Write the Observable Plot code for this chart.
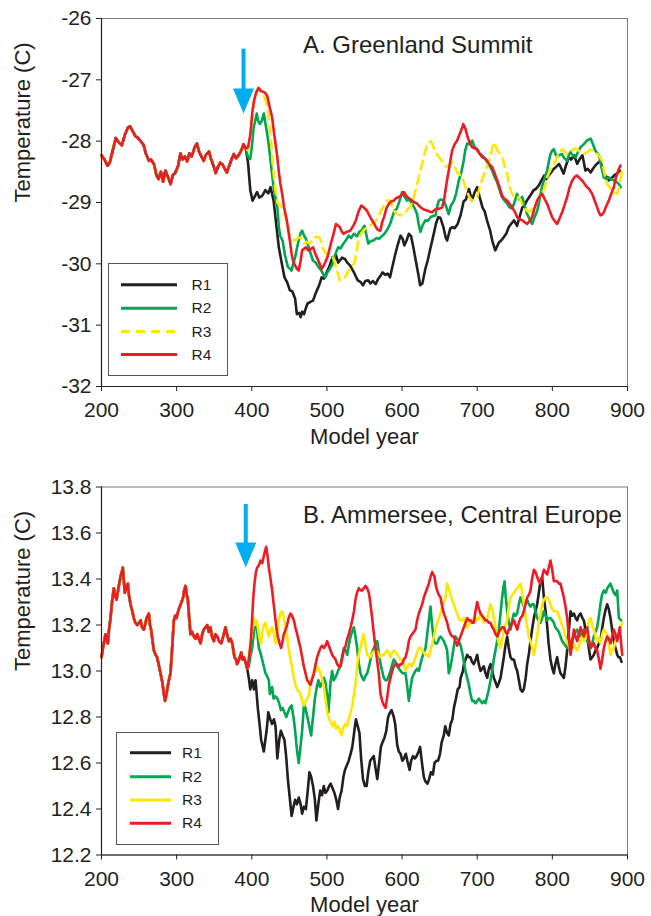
<!DOCTYPE html>
<html><head><meta charset="utf-8">
<script src="https://cdn.jsdelivr.net/npm/d3@7"></script>
<script src="https://cdn.jsdelivr.net/npm/@observablehq/plot@0.6"></script>
<style>
body{margin:0;background:#fff;font-family:"Liberation Sans",Arial,sans-serif;}
#wrap{position:relative;width:651px;height:916px;overflow:hidden;}
.panel{position:absolute;left:0;}
.legend{position:absolute;border:1px solid #555;background:#fff;box-sizing:border-box;}
</style></head><body><div id="wrap"></div>
<script>
// ---------- categories / ticks ----------
const seriesNames = ["R1", "R2", "R3", "R4"];
const seriesColors = ["#231f20", "#00a651", "#ffe800", "#ed1c24"];
const xTicks = [200, 300, 400, 500, 600, 700, 800, 900];
const A_yTicks = [-32, -31, -30, -29, -28, -27, -26];
const B_yTicks = [12.2, 12.4, 12.6, 12.8, 13.0, 13.2, 13.4, 13.6, 13.8];
const A_title = "A. Greenland Summit";
const B_title = "B. Ammersee, Central Europe";
// blue arrow annotations (year, top, neck, tip in temperature units)
const A_arrow = [{year: 389, top: -26.50, neck: -27.17, tip: -27.55}];
const B_arrow = [{year: 392, top: 13.724, neck: 13.546, tip: 13.45}];

// ---------- Panel A: Greenland Summit ----------
const A_common = [[200,-28.23],[204,-28.30],[208,-28.40],[211,-28.35],[215,-28.15],[219,-27.95],[223,-28.02],[227,-28.07],[231,-27.90],[235,-27.78],[238,-27.76],[242,-27.85],[245,-27.92],[248,-27.94],[252,-28.00],[256,-28.06],[259,-28.20],[263,-28.32],[266,-28.30],[270,-28.38],[273,-28.55],[276,-28.62],[279,-28.50],[282,-28.66],[285,-28.48],[289,-28.60],[292,-28.70],[295,-28.55],[298,-28.52],[302,-28.40],[305,-28.20],[308,-28.30],[311,-28.25],[314,-28.33],[317,-28.20],[320,-28.25],[324,-28.10],[327,-28.04],[330,-28.18],[333,-28.25],[336,-28.32],[339,-28.22],[343,-28.17],[346,-28.30],[349,-28.40],[352,-28.52],[355,-28.42],[358,-28.35],[361,-28.38],[364,-28.45],[367,-28.51],[370,-28.40],[373,-28.30],[376,-28.21],[379,-28.28],[383,-28.22],[386,-28.15],[389,-28.05],[392,-28.12]];
const A_R1 = [[395,-28.35],[398,-28.80],[401,-28.97],[404,-28.90],[407,-28.83],[410,-28.92],[414,-28.89],[418,-28.80],[422,-28.85],[425,-28.75],[429,-28.97],[432,-29.30],[436,-29.73],[440,-30.00],[443.5,-30.22],[447,-30.30],[450.6,-30.43],[454,-30.45],[457.7,-30.57],[460,-30.82],[463,-30.80],[465,-30.87],[467,-30.78],[469.6,-30.82],[472,-30.72],[474,-30.65],[478,-30.62],[481.5,-30.60],[485,-30.48],[488.6,-30.38],[491,-30.30],[493,-30.22],[496,-30.24],[498,-30.19],[501,-30.10],[503,-30.05],[505,-29.98],[507.6,-29.89],[510,-29.92],[512,-29.86],[515,-29.98],[517,-29.95],[520,-29.90],[524,-29.92],[527,-29.98],[531,-30.03],[534,-30.10],[536,-30.14],[539,-30.22],[541,-30.27],[545,-30.30],[548,-30.35],[551,-30.28],[555,-30.27],[558,-30.32],[561,-30.28],[565,-30.33],[568,-30.25],[571,-30.20],[574,-30.14],[578,-30.18],[581,-30.16],[584,-30.22],[587,-30.05],[591,-29.84],[594,-29.70],[598,-29.54],[601,-29.60],[603,-29.70],[606,-29.62],[609,-29.51],[612,-29.55],[615,-29.73],[619,-30.00],[622,-30.20],[624,-30.35],[627,-30.32],[631,-30.08],[634,-29.95],[638,-29.73],[642,-29.52],[645,-29.35],[648,-29.24],[651,-29.25],[655,-29.40],[658,-29.57],[660,-29.62],[664,-29.43],[667,-29.40],[670,-29.42],[674,-29.35],[678,-29.20],[682,-28.98],[685,-28.95],[689,-28.78],[693,-28.97],[696,-28.85],[700,-28.75],[703,-28.90],[707,-29.08],[710,-29.15],[713,-29.29],[717,-29.45],[720,-29.62],[724,-29.78],[727,-29.70],[729,-29.65],[732,-29.62],[735,-29.57],[739,-29.50],[742,-29.40],[745,-29.35],[749,-29.29],[753,-29.38],[756,-29.25],[760,-29.08],[763,-29.05],[766,-28.97],[770,-28.90],[775,-28.80],[778,-28.78],[782,-28.72],[785,-28.65],[789,-28.56],[792,-28.62],[795,-28.56],[799,-28.50],[802,-28.45],[805,-28.42],[809,-28.37],[812,-28.45],[815,-28.53],[818,-28.40],[822,-28.26],[825,-28.30],[829,-28.23],[833,-28.37],[836,-28.30],[840,-28.23],[844,-28.48],[847,-28.45],[851,-28.51],[854,-28.45],[857,-28.40],[861,-28.35],[864,-28.32],[868,-28.53],[872,-28.58],[875,-28.64],[880,-28.59],[883,-28.55],[886,-28.53],[890,-28.48]];
const A_R2 = [[395,-28.26],[398,-28.29],[400,-28.10],[402.5,-27.77],[404,-27.70],[406.6,-27.55],[408,-27.65],[410.5,-27.72],[413,-27.68],[416,-27.55],[418,-27.70],[420.5,-27.88],[423,-28.10],[425,-28.32],[429,-28.75],[432,-28.95],[434,-29.08],[436,-29.40],[438,-29.55],[441,-29.62],[444,-29.85],[448,-30.05],[451,-30.08],[453,-30.11],[455,-30.00],[457.7,-29.89],[460,-29.75],[462.5,-29.62],[465,-29.50],[467,-29.46],[470,-29.55],[472,-29.59],[475,-29.70],[477,-29.78],[481.5,-29.95],[485,-29.98],[488.6,-30.05],[492,-30.10],[496,-30.19],[498,-30.22],[500.5,-30.14],[504,-30.08],[507.6,-30.00],[511,-29.85],[515,-29.73],[518,-29.75],[522,-29.67],[525,-29.62],[529,-29.54],[532,-29.58],[536,-29.51],[540,-29.55],[543,-29.48],[545.7,-29.46],[550,-29.38],[552,-29.50],[555,-29.67],[558,-29.63],[562,-29.62],[566,-29.58],[569.5,-29.59],[573,-29.55],[576.6,-29.51],[580,-29.45],[584,-29.35],[587,-29.24],[590,-29.13],[593,-29.10],[596,-29.00],[600,-28.83],[603,-28.90],[606.8,-28.97],[610,-28.95],[613.4,-29.02],[617,-29.10],[620,-29.19],[622,-29.35],[624.5,-29.48],[627,-29.38],[631,-29.29],[634,-29.30],[638,-29.24],[641,-29.22],[644.5,-29.21],[647,-29.05],[649,-28.97],[652,-28.95],[655.6,-28.97],[659,-29.08],[662,-29.19],[665,-29.05],[669,-28.97],[672,-28.85],[675.5,-28.64],[679,-28.50],[682,-28.32],[684,-28.15],[686.6,-28.04],[690,-28.05],[693.3,-27.99],[696,-28.08],[700,-28.15],[703,-28.20],[706.6,-28.23],[710,-28.28],[713.3,-28.34],[717,-28.42],[720,-28.48],[723,-28.58],[726.6,-28.67],[730,-28.80],[733,-28.91],[737,-28.98],[740,-29.02],[743,-29.08],[746.5,-29.10],[750,-28.98],[753,-28.86],[756,-28.95],[760,-28.91],[763,-29.05],[766.5,-29.19],[770,-29.28],[773,-29.35],[776,-29.25],[780,-29.13],[783,-28.95],[786,-28.75],[790,-28.60],[793,-28.48],[795,-28.35],[797.5,-28.21],[800,-28.15],[802,-28.13],[804,-28.20],[806.4,-28.26],[810,-28.22],[813,-28.21],[816,-28.28],[819.7,-28.32],[822,-28.22],[824,-28.18],[828,-28.24],[831,-28.26],[834,-28.18],[837.5,-28.10],[841,-28.06],[844,-28.02],[847,-27.98],[851,-27.96],[854,-28.05],[857,-28.15],[860,-28.20],[862,-28.23],[865,-28.40],[868.5,-28.59],[872,-28.62],[875,-28.59],[878,-28.62],[882,-28.64],[885,-28.66],[888.5,-28.70],[891,-28.75]];
const A_R3 = [[395,-28.15],[398,-27.95],[401,-27.50],[404,-27.30],[407,-27.18],[410,-27.15],[413,-27.22],[416,-27.25],[419,-27.35],[422,-27.55],[425,-27.90],[428,-28.40],[431,-28.75],[434,-29.00],[438,-29.05],[441,-29.10],[446,-29.30],[450.6,-29.57],[454,-29.60],[457.7,-29.62],[461,-29.58],[465,-29.57],[469.6,-29.67],[473,-29.64],[477,-29.67],[481,-29.62],[484,-29.57],[488,-29.56],[491,-29.59],[495.8,-29.78],[500.5,-29.86],[504,-29.88],[507.6,-29.89],[510,-29.95],[512,-30.05],[515,-30.18],[517,-30.27],[520,-30.25],[524,-30.22],[527,-30.15],[531,-30.08],[536,-30.00],[539,-29.85],[541,-29.67],[543,-29.58],[545.7,-29.51],[549,-29.45],[553,-29.40],[557,-29.38],[560,-29.35],[563,-29.32],[565,-29.30],[569,-29.22],[572,-29.13],[576,-29.05],[580,-28.97],[584.6,-28.97],[588,-29.10],[591,-29.16],[595,-29.20],[598,-29.21],[601,-29.18],[604.6,-29.16],[608,-29.10],[611,-29.08],[615.7,-28.91],[620,-28.70],[623,-28.55],[626.8,-28.37],[629,-28.25],[631.2,-28.15],[633.5,-28.05],[635.6,-28.02],[638,-28.00],[640,-28.04],[642,-28.10],[644.5,-28.18],[649,-28.26],[652,-28.30],[655.6,-28.37],[659,-28.42],[662.2,-28.40],[666.7,-28.34],[670,-28.42],[673.3,-28.51],[677,-28.55],[680,-28.59],[683,-28.70],[686.6,-28.83],[690,-28.92],[693.3,-28.97],[697,-28.95],[700,-28.91],[704.4,-28.70],[708,-28.58],[711,-28.48],[714,-28.38],[717.7,-28.26],[720,-28.12],[722.1,-28.02],[724,-28.05],[726.6,-28.15],[730,-28.20],[733.2,-28.26],[736,-28.38],[739.9,-28.53],[742,-28.68],[744.3,-28.80],[748.8,-28.91],[752,-28.93],[755.4,-28.91],[759,-29.00],[762,-29.08],[765,-29.12],[768.7,-29.16],[772,-29.12],[775.4,-29.08],[779,-29.00],[782,-28.91],[785,-28.85],[788.7,-28.80],[791,-28.70],[793,-28.59],[796,-28.50],[799.8,-28.42],[803,-28.35],[806.4,-28.26],[810,-28.18],[813,-28.13],[816,-28.17],[819.7,-28.21],[823,-28.18],[826.4,-28.15],[830,-28.12],[833,-28.13],[836,-28.17],[839.7,-28.21],[843,-28.20],[846.3,-28.18],[850,-28.14],[853,-28.15],[856,-28.18],[859.6,-28.21],[863,-28.25],[866.3,-28.32],[869,-28.50],[873,-28.70],[876,-28.75],[879.6,-28.80],[883,-28.84],[886.3,-28.86],[889,-28.72],[891,-28.60],[893,-28.48]];
const A_R4 = [[395,-28.10],[398,-27.90],[401,-27.50],[403,-27.34],[406,-27.20],[409,-27.13],[412,-27.18],[416,-27.20],[418,-27.22],[420.5,-27.26],[423,-27.40],[427,-27.61],[430,-27.90],[434,-28.26],[436,-28.50],[438,-28.69],[441,-28.90],[443,-29.08],[446,-29.25],[448,-29.40],[451,-29.65],[453,-29.84],[455,-29.95],[457.7,-30.03],[460,-30.08],[462.5,-30.11],[465,-29.95],[467,-29.78],[470,-29.75],[472,-29.73],[475,-29.78],[477,-29.78],[479,-29.75],[481.5,-29.73],[485,-29.85],[488.6,-29.95],[491,-30.02],[493,-30.08],[496,-30.02],[498,-29.97],[501,-29.88],[503,-29.78],[505,-29.68],[507.6,-29.57],[510,-29.45],[512,-29.35],[515,-29.38],[517,-29.40],[520,-29.48],[522,-29.51],[526,-29.48],[531,-29.46],[535,-29.38],[538.6,-29.29],[542,-29.15],[545.7,-29.05],[549,-29.08],[553,-29.13],[556,-29.20],[560,-29.29],[563,-29.35],[565,-29.40],[568,-29.45],[571,-29.46],[574,-29.30],[576,-29.24],[579,-29.10],[582.4,-29.02],[586,-28.98],[589,-28.97],[592,-28.93],[595.7,-28.91],[599,-28.88],[602.4,-28.83],[606.8,-28.91],[610,-28.94],[613.4,-28.97],[617,-29.00],[620,-29.02],[623,-29.06],[626.8,-29.10],[630,-29.12],[633.4,-29.13],[637,-29.15],[640,-29.16],[643,-29.12],[646.7,-29.10],[650,-29.10],[653.4,-29.08],[656,-28.95],[657.8,-28.80],[660,-28.62],[662.2,-28.48],[664.5,-28.30],[666.7,-28.15],[670,-28.05],[673.3,-27.99],[675.5,-27.92],[677.8,-27.85],[680,-27.78],[681.3,-27.72],[684.4,-27.80],[686.5,-27.90],[688.9,-27.99],[691,-28.05],[693.3,-28.10],[697,-28.12],[700,-28.13],[703,-28.20],[706.6,-28.26],[710,-28.28],[713.3,-28.32],[716,-28.38],[719.9,-28.42],[723,-28.52],[726.6,-28.64],[730,-28.76],[733.2,-28.89],[736,-28.94],[739.9,-28.97],[743,-29.02],[746.5,-29.08],[750,-29.15],[753.2,-29.24],[756,-29.27],[759.8,-29.29],[763,-29.32],[766.5,-29.35],[770,-29.30],[773,-29.24],[776,-29.10],[779.8,-28.97],[783,-28.90],[786.4,-28.86],[790,-28.95],[793,-29.02],[796,-29.12],[799.8,-29.24],[803,-29.30],[806.4,-29.35],[810,-29.25],[813,-29.16],[816,-29.05],[819.7,-28.91],[823,-28.75],[826.4,-28.64],[830,-28.58],[833,-28.56],[836,-28.60],[839.7,-28.64],[843,-28.70],[846.3,-28.75],[850,-28.80],[853,-28.86],[856,-28.96],[859.6,-29.08],[862,-29.16],[864,-29.21],[866,-29.20],[868.5,-29.16],[872,-29.05],[875.2,-28.97],[878,-28.87],[881.8,-28.75],[884,-28.62],[886.3,-28.53],[888.5,-28.45],[890.7,-28.40]];

// ---------- Panel B: Ammersee ----------
const B_common = [[200,13.06],[202,13.10],[205.3,13.16],[208.4,13.12],[210,13.18],[212,13.23],[214,13.30],[216.4,13.36],[218,13.33],[220,13.31],[222.5,13.36],[225.3,13.41],[227,13.43],[228.4,13.45],[230,13.38],[231,13.34],[233,13.36],[235,13.38],[236.5,13.33],[238.6,13.29],[241,13.26],[243,13.23],[245,13.21],[247.5,13.20],[250,13.21],[252,13.22],[254,13.19],[256.3,13.18],[258,13.20],[260,13.23],[261.5,13.24],[263,13.25],[264.5,13.20],[266,13.18],[268,13.13],[269.6,13.09],[272,13.07],[274,13.06],[276,13.03],[278.5,12.99],[281,12.95],[283,12.90],[284.5,12.87],[286.5,12.90],[289,12.95],[291.8,12.99],[294,13.10],[296.3,13.22],[298,13.24],[299.8,13.23],[302,13.26],[304.2,13.28],[306.5,13.30],[308.7,13.32],[310,13.35],[311.8,13.37],[313.5,13.33],[314.9,13.31],[316.5,13.24],[318.4,13.16],[320.5,13.17],[322.9,13.15],[325,13.14],[327.3,13.16],[329.5,13.14],[331.8,13.12],[334,13.16],[336.2,13.18],[338.5,13.19],[340.6,13.20],[342.8,13.17],[345,13.19],[347,13.15],[349.5,13.13],[351.5,13.16],[354,13.15],[356.5,13.13],[359.3,13.12],[362,13.15],[365,13.19],[367,13.16],[369.5,13.13],[372,13.14],[374,13.12],[375.5,13.09],[377,13.06],[379,13.05],[380.5,13.03],[383,13.05],[385.9,13.08],[387.5,13.05],[389.4,13.06],[391.5,13.04],[393.9,13.01]];
const B_R1 = [[396,12.97],[398,12.92],[400.5,12.96],[403,12.92],[405,12.96],[408,12.84],[410,12.78],[412.5,12.70],[416,12.65],[418,12.70],[419.7,12.74],[422,12.82],[424.5,12.79],[427,12.77],[429.5,12.79],[431.6,12.76],[434,12.62],[436.5,12.70],[438.7,12.74],[441,12.72],[443.5,12.70],[446,12.62],[448,12.53],[450.5,12.45],[453,12.37],[455.5,12.41],[457.7,12.44],[460,12.42],[462.5,12.45],[465,12.42],[467,12.38],[469.5,12.41],[472,12.40],[474.5,12.48],[476.7,12.56],[479,12.54],[481.5,12.50],[484,12.44],[486,12.35],[488.5,12.42],[491,12.48],[493.5,12.46],[495.8,12.50],[498,12.47],[500.5,12.48],[503,12.50],[505,12.51],[507.5,12.49],[510,12.47],[512.5,12.44],[514.8,12.40],[517,12.45],[519.5,12.48],[522,12.54],[524,12.57],[526.5,12.59],[529,12.61],[531.5,12.64],[533.8,12.67],[536.5,12.74],[538.6,12.79],[541,12.76],[543.3,12.73],[545.5,12.62],[548,12.53],[550.5,12.50],[552.8,12.50],[555,12.56],[557.6,12.61],[560,12.62],[562.3,12.63],[565,12.57],[567,12.53],[569.5,12.60],[571.8,12.67],[574,12.69],[576.6,12.71],[579,12.74],[581.4,12.80],[584,12.82],[586,12.83],[589,12.80],[590.8,12.77],[593.5,12.68],[595.6,12.65],[598,12.64],[600.4,12.61],[602.5,12.62],[605,12.64],[607,12.61],[610,12.57],[612,12.61],[614.6,12.63],[617,12.62],[619.4,12.63],[622,12.65],[624,12.67],[626.5,12.60],[628.9,12.54],[631,12.52],[633.7,12.51],[636,12.53],[638.4,12.56],[641,12.55],[643.2,12.60],[646,12.61],[648,12.61],[650.5,12.64],[652.7,12.69],[655.5,12.72],[657.4,12.76],[660,12.73],[662.2,12.72],[664.5,12.77],[667,12.79],[669,12.84],[671.7,12.88],[674,12.92],[676.5,12.93],[678,12.97],[681,13.00],[682.2,13.03],[684.5,13.05],[686.6,13.07],[689,13.06],[691,13.06],[693,13.04],[695.5,13.03],[698,13.05],[700,13.07],[702,13.03],[704.4,13.00],[706.5,13.01],[708.8,13.02],[711,12.99],[713.3,12.97],[715.5,13.01],[717.7,13.03],[720,13.00],[722.1,12.97],[724.5,12.95],[726.6,12.93],[729,12.95],[731,12.97],[733,13.01],[735.4,13.06],[737.5,13.11],[739.9,13.15],[742,13.10],[744.3,13.06],[746.5,13.05],[748.8,13.05],[751,13.02],[753.2,13.00],[755.5,12.96],[757.6,12.92],[760,12.91],[762,12.92],[764.5,12.97],[766.5,13.03],[769,13.08],[770.9,13.13],[773,13.18],[775.4,13.23],[777.5,13.26],[779.8,13.29],[782,13.34],[784.2,13.39],[786.4,13.41],[788.7,13.32],[791,13.26],[793,13.20],[795,13.12],[797.5,13.05],[800,13.01],[802,12.99],[804,13.03],[806.4,13.06],[808.5,13.02],[810.8,12.99],[813,12.98],[815.3,12.97],[817.5,13.02],[819.7,13.09],[822,13.18],[824.2,13.26],[826.5,13.24],[828.6,13.25],[831,13.23],[833,13.22],[835,13.24],[837.5,13.25],[840,13.23],[841.9,13.22],[844,13.18],[846.3,13.15],[848.5,13.10],[850.8,13.05],[853,13.06],[855.2,13.07],[857.5,13.09],[859.6,13.10],[862,13.12],[864,13.13],[866,13.18],[868.5,13.23],[871,13.27],[873,13.29],[875,13.27],[877.4,13.23],[879.5,13.18],[881.8,13.13],[884,13.10],[886.3,13.07],[888,13.06],[890,13.06],[892,13.04]];
const B_R2 = [[396,13.02],[398,13.06],[400.5,13.10],[403.6,13.19],[405.5,13.21],[407,13.18],[409.4,13.10],[411.5,13.08],[413.8,13.05],[416,13.02],[418.2,12.99],[420,12.98],[422.7,12.96],[424,12.90],[427,12.93],[429,12.88],[431.5,12.89],[434,12.88],[436.5,12.86],[438.7,12.83],[441,12.84],[443.5,12.82],[446,12.80],[448,12.82],[450.5,12.84],[453,12.85],[455.5,12.80],[457.7,12.74],[460,12.66],[462.5,12.60],[464.5,12.66],[467,12.74],[469.6,12.86],[472,12.83],[474,12.80],[476.5,12.76],[479,12.72],[481.5,12.80],[484,12.88],[486.5,12.93],[488.6,12.96],[491,12.93],[493.5,12.95],[496,12.97],[498,12.95],[500,12.90],[502,12.82],[504.8,12.95],[507,13.00],[509,12.96],[511,12.97],[513.6,12.99],[516,13.01],[518,13.02],[520,13.06],[522.5,13.10],[525,13.09],[527,13.07],[529,13.11],[531.4,13.15],[533.5,13.17],[535.8,13.19],[538,13.15],[540.2,13.10],[542.5,13.03],[544.7,12.99],[547,12.97],[549,12.96],[551.5,12.98],[553.6,12.99],[556,13.02],[558,13.05],[560,13.08],[562.4,13.10],[565,13.12],[567,13.13],[569,13.08],[571.3,13.03],[573.5,13.00],[575.7,12.97],[578,12.96],[580,12.96],[582.5,12.98],[584.6,13.00],[587,13.03],[589,13.05],[591,13.04],[593.5,13.02],[596,13.01],[598,13.00],[601,12.99],[604.6,12.99],[607,12.93],[609,12.87],[611,12.92],[613.4,12.97],[616,12.99],[617.9,13.00],[620,13.01],[622.3,13.00],[624.5,13.03],[626.8,13.06],[629,13.08],[631.2,13.10],[633.5,13.16],[635.6,13.22],[637.8,13.28],[640,13.20],[642.3,13.13],[644.5,13.12],[646.7,13.12],[649,13.14],[651.2,13.15],[653.4,13.14],[655.6,13.13],[658,13.11],[660,13.09],[662.2,12.99],[664.5,13.02],[666.7,13.06],[669,13.11],[671,13.15],[673.3,13.14],[675.6,13.13],[678,13.11],[680,13.08],[682.2,13.04],[684.4,13.00],[686.6,12.97],[688.9,12.94],[691,12.90],[693.3,12.87],[695.5,12.87],[697.8,12.86],[700,12.87],[702,12.88],[704.4,12.87],[706.6,12.86],[709,12.87],[711,12.86],[713.3,12.89],[715.5,12.92],[717.7,12.96],[719.9,13.00],[722,13.05],[724.3,13.09],[726.6,13.13],[728.8,13.18],[731,13.25],[733.2,13.32],[734.8,13.36],[736.3,13.39],[738,13.32],[739.9,13.26],[742,13.21],[744.3,13.18],[746.5,13.22],[748.8,13.25],[751,13.24],[753.2,13.25],[755.4,13.29],[757.6,13.32],[760,13.30],[762,13.28],[764.2,13.30],[766.5,13.31],[768.7,13.29],[770.9,13.28],[773,13.29],[775.4,13.29],[777.6,13.26],[779.8,13.23],[782,13.22],[784.2,13.21],[786.5,13.23],[788.7,13.26],[791,13.24],[793,13.22],[795.3,13.23],[797.5,13.23],[800,13.22],[802,13.21],[804,13.19],[806.4,13.18],[808.6,13.17],[810.8,13.15],[813,13.13],[815.3,13.12],[817.5,13.11],[819.7,13.10],[822,13.11],[824.2,13.12],[826.4,13.14],[828.6,13.15],[831,13.17],[833,13.18],[835.3,13.16],[837.5,13.15],[839.7,13.17],[841.9,13.18],[844,13.15],[846.3,13.13],[848.5,13.12],[850.8,13.10],[853,13.12],[855.2,13.15],[857.4,13.17],[859.6,13.19],[862,13.24],[864,13.29],[866,13.33],[868.5,13.35],[871,13.34],[873,13.36],[875.2,13.37],[877.4,13.38],[879.6,13.36],[881.8,13.34],[884,13.33],[886.3,13.35],[888.5,13.23],[891.6,13.22]];
const B_R3 = [[396,13.06],[398.3,13.12],[400.5,13.18],[402.7,13.23],[404.5,13.20],[406.3,13.22],[408,13.19],[409.4,13.16],[411,13.13],[412.5,13.12],[414,13.17],[416,13.20],[418,13.21],[419.6,13.19],[421,13.17],[422.7,13.15],[425,13.18],[427.1,13.19],[429.5,13.16],[431.6,13.12],[434,13.17],[436,13.22],[438,13.25],[440.4,13.26],[442,13.24],[443.5,13.22],[445,13.19],[447,13.15],[449,13.10],[451.5,13.05],[454,13.01],[456,12.97],[458,12.94],[460.4,12.92],[463,12.91],[465,12.90],[467,12.87],[469.6,12.85],[472,12.87],[474,12.88],[476.5,12.90],[478,12.96],[480,12.97],[482.6,12.99],[485,13.00],[487,13.02],[489,13.01],[491.4,12.99],[494,12.96],[496,12.93],[498,12.88],[500.5,12.82],[503,12.79],[505,12.78],[507.6,12.76],[510,12.78],[512,12.75],[514.8,12.76],[517,12.74],[519.5,12.72],[521.5,12.75],[524,12.77],[526.5,12.76],[529,12.79],[531.5,12.82],[533.8,12.85],[536,12.90],[538.6,12.96],[541,13.05],[543,13.08],[544.7,13.10],[547,13.14],[549,13.16],[551.5,13.11],[553.6,13.07],[556,13.06],[558,13.06],[561,13.08],[564.7,13.09],[568,13.08],[571,13.06],[573.5,13.07],[575.7,13.07],[578,13.08],[580,13.09],[582.5,13.08],[584.6,13.06],[587,13.08],[589,13.09],[592,13.08],[595.7,13.06],[598,13.05],[600,13.05],[602.4,13.03],[604.6,13.00],[607,13.02],[609,13.03],[611,13.03],[613.4,13.02],[615.7,13.04],[617.9,13.06],[620,13.08],[622.3,13.10],[624.5,13.10],[626.8,13.09],[629,13.08],[631.2,13.07],[633.4,13.07],[635.6,13.06],[638,13.09],[640,13.12],[642.3,13.15],[644.5,13.18],[646.7,13.21],[649,13.23],[651.2,13.25],[653.4,13.28],[655.6,13.30],[657.8,13.32],[660,13.38],[662.3,13.36],[664.5,13.33],[666.7,13.31],[668.9,13.29],[671,13.27],[673.3,13.25],[675.5,13.23],[677.8,13.22],[680,13.22],[682.2,13.23],[684.4,13.21],[686.6,13.19],[689,13.20],[691,13.21],[693.3,13.22],[695.5,13.23],[697.7,13.23],[700,13.22],[702.2,13.23],[704.4,13.25],[706.6,13.23],[708.8,13.21],[711,13.22],[713.3,13.23],[715.5,13.26],[717.7,13.29],[720,13.27],[722.1,13.23],[724.4,13.19],[726.6,13.15],[728.8,13.12],[731,13.10],[733.2,13.14],[735.4,13.18],[737.7,13.20],[739.9,13.22],[742,13.28],[744.3,13.32],[746.5,13.33],[748.8,13.34],[751,13.35],[753.2,13.36],[755.4,13.37],[757.6,13.38],[760,13.34],[762,13.29],[764.3,13.24],[766.5,13.19],[768.7,13.15],[770.9,13.13],[773.2,13.10],[775.4,13.07],[777.6,13.11],[779.8,13.15],[782,13.21],[784.2,13.25],[786.5,13.29],[788.7,13.31],[790.9,13.32],[793,13.32],[795.3,13.31],[797.5,13.29],[799.8,13.27],[802,13.26],[804.2,13.26],[806.4,13.26],[808.6,13.24],[810.8,13.22],[813,13.20],[815.3,13.18],[817.5,13.15],[819.7,13.12],[822,13.11],[824.2,13.09],[826.4,13.10],[828.6,13.12],[830.8,13.10],[833,13.09],[835.3,13.11],[837.5,13.13],[839.7,13.15],[841.9,13.13],[844,13.14],[846.3,13.18],[848.6,13.22],[850.8,13.23],[853,13.20],[855.2,13.18],[857.4,13.15],[859.6,13.13],[862,13.14],[864,13.12],[866.3,13.16],[868.5,13.18],[870.8,13.17],[873,13.15],[875.2,13.12],[877.4,13.07],[879.6,13.09],[881.8,13.10],[884,13.13],[886.3,13.15],[888.5,13.17],[890.7,13.19],[893,13.21]];
const B_R4 = [[396,13.05],[398.5,13.12],[400.5,13.23],[402,13.32],[403.6,13.38],[405.5,13.43],[407.2,13.45],[409.5,13.46],[411.6,13.48],[414,13.47],[416,13.50],[417.5,13.52],[419.1,13.54],[421,13.50],[422.7,13.45],[425,13.40],[427.1,13.35],[429.5,13.28],[431.6,13.22],[433,13.18],[434.7,13.15],[437,13.12],[439.1,13.10],[441,13.13],[442.6,13.16],[445,13.18],[447,13.20],[449,13.23],[451.5,13.25],[453.5,13.24],[456,13.22],[458,13.19],[460.4,13.16],[462.5,13.13],[464.8,13.10],[467,13.06],[469.3,13.02],[471.5,12.99],[473.7,12.96],[476,12.95],[478.1,12.94],[480,12.96],[482.6,12.99],[485,13.03],[487,13.06],[489,13.08],[491.4,13.10],[493.5,13.11],[495.9,13.10],[498,13.11],[500.3,13.13],[502.5,13.11],[504.8,13.09],[507,13.07],[509.2,13.06],[511.5,13.05],[513.6,13.03],[516,13.02],[518,13.02],[520,13.05],[522.5,13.09],[525,13.11],[527,13.14],[529.1,13.16],[531.5,13.19],[533.6,13.22],[536,13.26],[538,13.31],[540,13.34],[542.5,13.36],[545,13.35],[547,13.35],[549,13.36],[551.3,13.37],[553.5,13.36],[555.8,13.34],[558,13.29],[560.2,13.23],[562.5,13.16],[564.7,13.10],[567,13.04],[569,12.99],[571.3,12.90],[573.5,12.87],[576,12.85],[578,12.84],[580,12.88],[582.4,12.94],[584.6,12.97],[586.8,13.00],[589,13.02],[591.3,13.03],[593.5,13.03],[595.7,13.02],[598,13.03],[600,13.03],[602.4,13.05],[604.6,13.06],[607,13.09],[609,13.13],[611.2,13.15],[613.4,13.16],[615.7,13.17],[617.9,13.18],[620,13.22],[622.3,13.25],[624.5,13.27],[626.8,13.29],[629,13.32],[631.2,13.34],[633.4,13.36],[635.6,13.38],[638,13.41],[640,13.43],[641.5,13.42],[643.2,13.41],[645,13.37],[646.7,13.35],[649,13.33],[651.2,13.32],[653.4,13.28],[655.6,13.25],[658,13.23],[660,13.21],[662.2,13.18],[664.5,13.16],[666.7,13.15],[668.9,13.15],[671,13.13],[673.3,13.11],[675.6,13.13],[677.8,13.15],[680,13.17],[682.2,13.19],[684.4,13.21],[686.6,13.23],[688.8,13.22],[691.1,13.22],[693.3,13.21],[695.5,13.21],[697.7,13.26],[700,13.30],[702.2,13.27],[704.4,13.25],[706.6,13.24],[708.8,13.23],[711,13.22],[713.3,13.22],[715.5,13.21],[717.7,13.21],[720,13.19],[722.1,13.18],[724.4,13.16],[726.6,13.15],[728.8,13.17],[731,13.18],[733.2,13.19],[735.4,13.19],[737.7,13.17],[739.9,13.16],[742,13.18],[744.3,13.19],[746.5,13.21],[748.8,13.22],[751,13.20],[753.2,13.18],[755.4,13.21],[757.6,13.23],[760,13.24],[762,13.26],[764.3,13.29],[766.5,13.32],[768.7,13.33],[770.9,13.35],[773,13.40],[775.4,13.44],[777.6,13.43],[779.8,13.41],[782,13.39],[784.2,13.38],[786.5,13.41],[788.7,13.44],[790.9,13.43],[793.1,13.42],[795.3,13.45],[797.5,13.48],[799.8,13.44],[802,13.39],[804.2,13.39],[806.4,13.39],[808.6,13.38],[810.8,13.38],[813,13.35],[815.3,13.32],[817.5,13.28],[819.7,13.23],[822,13.15],[824.2,13.07],[826.4,13.12],[828.6,13.18],[830.8,13.15],[833,13.13],[835.3,13.16],[837.5,13.19],[839.7,13.17],[841.9,13.15],[844,13.17],[846.3,13.19],[848.6,13.14],[850.8,13.10],[853,13.11],[855.2,13.12],[857.4,13.10],[859.6,13.09],[862,13.05],[864,13.01],[866.3,13.05],[868.5,13.10],[870.8,13.13],[873,13.15],[875.2,13.14],[877.4,13.12],[879.6,13.15],[881.8,13.18],[884,13.16],[886.3,13.13],[888,13.16],[889.8,13.19],[891.5,13.12],[893,13.07]];

// ---------- drawing ----------
const FONT = '"Liberation Sans", Arial, Helvetica, sans-serif';
const INK = "#231f20";
const BLUE = "#00aeef";
const headSymbol = {
  draw(ctx) { ctx.moveTo(-10.5, -25); ctx.lineTo(10.5, -25); ctx.lineTo(0, 0); ctx.closePath(); }
};

function makePanel(cfg) {
  const marks = [Plot.frame({stroke: "#7a7a7a", strokeWidth: 1})];
  cfg.series.forEach((s, i) => {
    marks.push(Plot.line(cfg.common.concat(s), {
      x: d => d[0], y: d => d[1], stroke: seriesColors[i], strokeWidth: 2.6,
      strokeLinejoin: "round",
      strokeDasharray: (cfg.dashR3 && i === 2) ? "9,6" : null
    }));
  });
  marks.push(
    Plot.ruleX([cfg.xDomain[0]], {stroke: INK, strokeWidth: 1.2}),
    Plot.ruleY([cfg.yDomain[0]], {stroke: INK, strokeWidth: 1.2}),
    Plot.axisX({ticks: xTicks, tickSize: 5, tickPadding: 11, tickFormat: d => String(d), fontSize: 21, label: null, stroke: INK}),
    Plot.axisY({ticks: cfg.yTicks, tickSize: 5, tickPadding: 5, tickFormat: cfg.yFormat, fontSize: 21, label: null, stroke: INK}),
    Plot.ruleX(cfg.arrow, {x: "year", y1: "top", y2: "neck", stroke: BLUE, strokeWidth: 4}),
    Plot.dot(cfg.arrow, {x: "year", y: "tip", symbol: headSymbol, fill: BLUE, stroke: "none"}),
    Plot.text([cfg.title], {frameAnchor: "top-left", textAnchor: "start", lineAnchor: "top", dx: 201.5, dy: cfg.titleDy, fontSize: 24, fill: INK}),
    Plot.text(["Temperature (C)"], {frameAnchor: "left", rotate: -90, dx: -79, fontSize: 22, fill: INK}),
    Plot.text(["Model year"], {frameAnchor: "bottom", lineAnchor: "top", dy: 41.5, fontSize: 22, fill: INK})
  );
  return Plot.plot({
    width: 651, height: cfg.height,
    marginLeft: 101, marginRight: 24, marginTop: cfg.marginTop, marginBottom: cfg.height - cfg.marginTop - 368,
    x: {domain: cfg.xDomain},
    y: {domain: cfg.yDomain},
    style: {fontFamily: FONT, fontSize: "21px", color: INK, background: "transparent", overflow: "visible"},
    marks
  });
}

const wrap = document.getElementById("wrap");

function addPanel(node, top) {
  node.classList.add("panel");
  node.style.top = top + "px";
  wrap.appendChild(node);
}

addPanel(makePanel({
  common: A_common, series: [A_R1, A_R2, A_R3, A_R4], xDomain: [200, 900], yDomain: [-32, -26],
  yTicks: A_yTicks, yFormat: d => String(d), height: 460, marginTop: 18, title: A_title, titleDy: 17.5,
  arrow: A_arrow, dashR3: true
}), 0);

addPanel(makePanel({
  common: B_common, series: [B_R1, B_R2, B_R3, B_R4], xDomain: [200, 900], yDomain: [12.2, 13.8],
  yTicks: B_yTicks, yFormat: d => d.toFixed(1), height: 456, marginTop: 26.5, title: B_title, titleDy: 18.5,
  arrow: B_arrow, dashR3: false
}), 460);

// ---------- legends (HTML overlays) ----------
function addLegend(box, dashR3) {
  const div = document.createElement("div");
  div.className = "legend";
  Object.assign(div.style, {left: box.left + "px", top: box.top + "px", width: box.width + "px", height: box.height + "px"});
  const svgNS = "http://www.w3.org/2000/svg";
  const svg = document.createElementNS(svgNS, "svg");
  svg.setAttribute("width", box.width - 2); svg.setAttribute("height", box.height - 2);
  svg.style.position = "absolute"; svg.style.left = "0"; svg.style.top = "0";
  seriesNames.forEach((name, i) => {
    const y = box.rows[i] - 1;
    const line = document.createElementNS(svgNS, "line");
    line.setAttribute("x1", box.x1 - 1); line.setAttribute("x2", box.x2 - 1);
    line.setAttribute("y1", y); line.setAttribute("y2", y);
    line.setAttribute("stroke", seriesColors[i]); line.setAttribute("stroke-width", 3);
    if (dashR3 && i === 2) line.setAttribute("stroke-dasharray", "9,6");
    svg.appendChild(line);
    const t = document.createElementNS(svgNS, "text");
    t.setAttribute("x", box.tx - 1); t.setAttribute("y", y + 1);
    t.setAttribute("dominant-baseline", "middle");
    t.setAttribute("font-family", FONT); t.setAttribute("font-size", 15.5);
    t.setAttribute("fill", INK);
    t.textContent = name;
    svg.appendChild(t);
  });
  div.appendChild(svg);
  wrap.appendChild(div);
}
addLegend({left: 107.5, top: 262.5, width: 120, height: 113, x1: 13, x2: 69, tx: 83.5, rows: [21.8, 45.2, 68.5, 91.5]}, true);
addLegend({left: 116, top: 732, width: 103, height: 113, x1: 14, x2: 55, tx: 66, rows: [20.7, 44.7, 68, 91.3]}, false);
</script></body></html>
